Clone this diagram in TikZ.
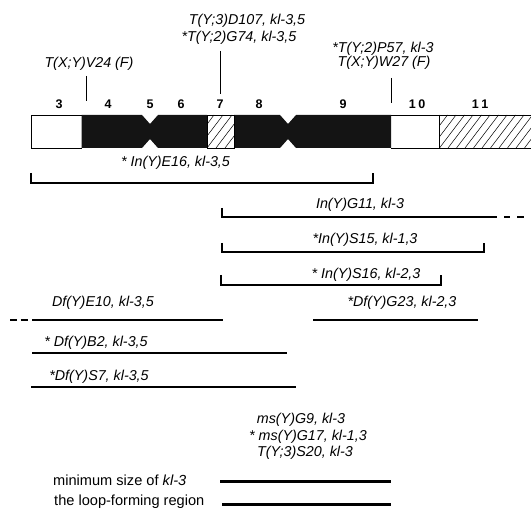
\documentclass[tikz,border=0pt]{standalone}
\usepackage{fontspec}
\setmainfont{Liberation Sans}
\begin{document}
\begin{tikzpicture}[x=1pt,y=-1pt,
  lbl/.style={font=\itshape\fontsize{14.3}{17}\selectfont, inner sep=0pt, align=center},
  txt/.style={font=\fontsize{14.6}{17}\selectfont, inner sep=0pt, anchor=west},
  num/.style={font=\bfseries\fontsize{12.5}{14}\selectfont, inner sep=0pt},
  brk/.style={line width=1.2pt},
  tck/.style={line width=0.8pt},
  thk/.style={line width=3pt},
  hatch/.style={line width=0.5pt},
  bar/.style={line width=0.9pt}]
\useasboundingbox (0,0) rectangle (531,508);

% ---------- chromosome bar ----------
\fill[black!92] (81.5,115) -- (142,115) -- (150,124) -- (158,115) -- (207,115)
   -- (207,148) -- (158,148) -- (150,139) -- (142,148) -- (81.5,148) -- cycle;
\fill[black!92] (234,115) -- (280,115) -- (288,124) -- (296,115) -- (391,115)
   -- (391,148) -- (296,148) -- (288,139) -- (280,148) -- (234,148) -- cycle;
\begin{scope}
  \clip (207,115) rectangle (234,148);
  \foreach \i in {180,189,...,240} \draw[hatch] (\i,148) -- ++(25,-33);
\end{scope}
\begin{scope}
  \clip (439,115) rectangle (531,148);
  \foreach \i in {414,422.5,...,540} \draw[hatch] (\i,148) -- ++(25,-33);
\end{scope}
\draw[bar] (81.5,115) -- (31,115) -- (31,148) -- (81.5,148);
\draw[bar] (207,115) rectangle (234,148);
\draw[bar] (391,115) -- (531,115);
\draw[bar] (391,148) -- (531,148);
\draw[bar] (439,115) -- (439,148);

% segment numbers
\node[num] (n3)  at (59,104)  {3};
\node[num] (n4)  at (108,104) {4};
\node[num] (n5)  at (150,104) {5};
\node[num] (n6)  at (181,104) {6};
\node[num] (n7)  at (220,104) {7};
\node[num] (n8)  at (259,104) {8};
\node[num] (n9)  at (343,104) {9};
\node[num] (n10) at (417,104) {1\hspace{2.5pt}0};
\node[num] (n11) at (480,104) {1\hspace{2.5pt}1};

% top labels with ticks
\node[lbl] (v24) at (89,64) {T(X;Y)V24 (F)};
\coordinate (v24a) at (86.7,76);
\coordinate (v24b) at (86.7,101);
\draw[tck] (v24a) -- (v24b);

\node[lbl] (d107) at (247,21) {T(Y;3)D107, kl-3,5};
\node[lbl] (g74)  at (239,37.5) {*T(Y;2)G74, kl-3,5};
\coordinate (d107a) at (220,51);
\coordinate (d107b) at (220,94);
\draw[tck] (d107a) -- (d107b);

\node[lbl] (p57) at (383,49) {*T(Y;2)P57, kl-3};
\node[lbl] (w27) at (384,62.5) {T(X;Y)W27 (F)};
\coordinate (p57a) at (391.5,78);
\coordinate (p57b) at (391.5,103);
\draw[tck] (p57a) -- (p57b);

% ---------- brackets ----------
\node[lbl] (e16) at (175.5,163) {* In(Y)E16, kl-3,5};
\coordinate (e16l) at (31,173); \coordinate (e16r) at (373,173);
\draw[brk] (e16l) |- (373,183) -- (e16r);

\node[lbl] (g11) at (360,205) {In(Y)G11, kl-3};
\coordinate (g11l) at (222,208); \coordinate (g11r) at (497,217);
\draw[brk] (g11l) |- (g11r);
\draw[brk] (504,217) -- (510,217) (517,217) -- (524,217);

\node[lbl] (s15) at (365,240) {*In(Y)S15, kl-1,3};
\coordinate (s15l) at (222,243); \coordinate (s15r) at (484,243);
\draw[brk] (s15l) |- (484,252) -- (s15r);

\node[lbl] (s16) at (366,275) {* In(Y)S16, kl-2,3};
\coordinate (s16l) at (221,275); \coordinate (s16r) at (441,275);
\draw[brk] (s16l) |- (441,285) -- (s16r);

% ---------- deficiency lines ----------
\node[lbl] (e10) at (103,303) {Df(Y)E10, kl-3,5};
\coordinate (e10l) at (32,320); \coordinate (e10r) at (223,320);
\draw[brk] (e10l) -- (e10r);
\draw[brk] (10,320) -- (17,320) (20.5,320) -- (27.5,320);

\node[lbl] (g23) at (402,303) {*Df(Y)G23, kl-2,3};
\coordinate (g23l) at (313,320); \coordinate (g23r) at (478,320);
\draw[brk] (g23l) -- (g23r);

\node[lbl] (b2) at (96,343) {* Df(Y)B2, kl-3,5};
\coordinate (b2l) at (32,353); \coordinate (b2r) at (287,353);
\draw[brk] (b2l) -- (b2r);

\node[lbl] (s7) at (99,377) {*Df(Y)S7, kl-3,5};
\coordinate (s7l) at (31,387); \coordinate (s7r) at (296,387);
\draw[brk] (s7l) -- (s7r);

% ---------- bottom ----------
\node[lbl] (g9)  at (301,420) {ms(Y)G9, kl-3};
\node[lbl] (g17) at (308,437) {* ms(Y)G17, kl-1,3};
\node[lbl] (s20) at (305,453) {T(Y;3)S20, kl-3};

\node[txt] (mins) at (53,480) {minimum size of \textit{kl-3}};
\coordinate (minl) at (220,481); \coordinate (minr) at (390.5,481);
\draw[thk] (minl) -- (minr);

\node[txt] (loop) at (54,502) {the loop-forming region};
\coordinate (loopl) at (222,504); \coordinate (loopr) at (390.5,504);
\draw[thk] (loopl) -- (loopr);
\end{tikzpicture}
\end{document}
